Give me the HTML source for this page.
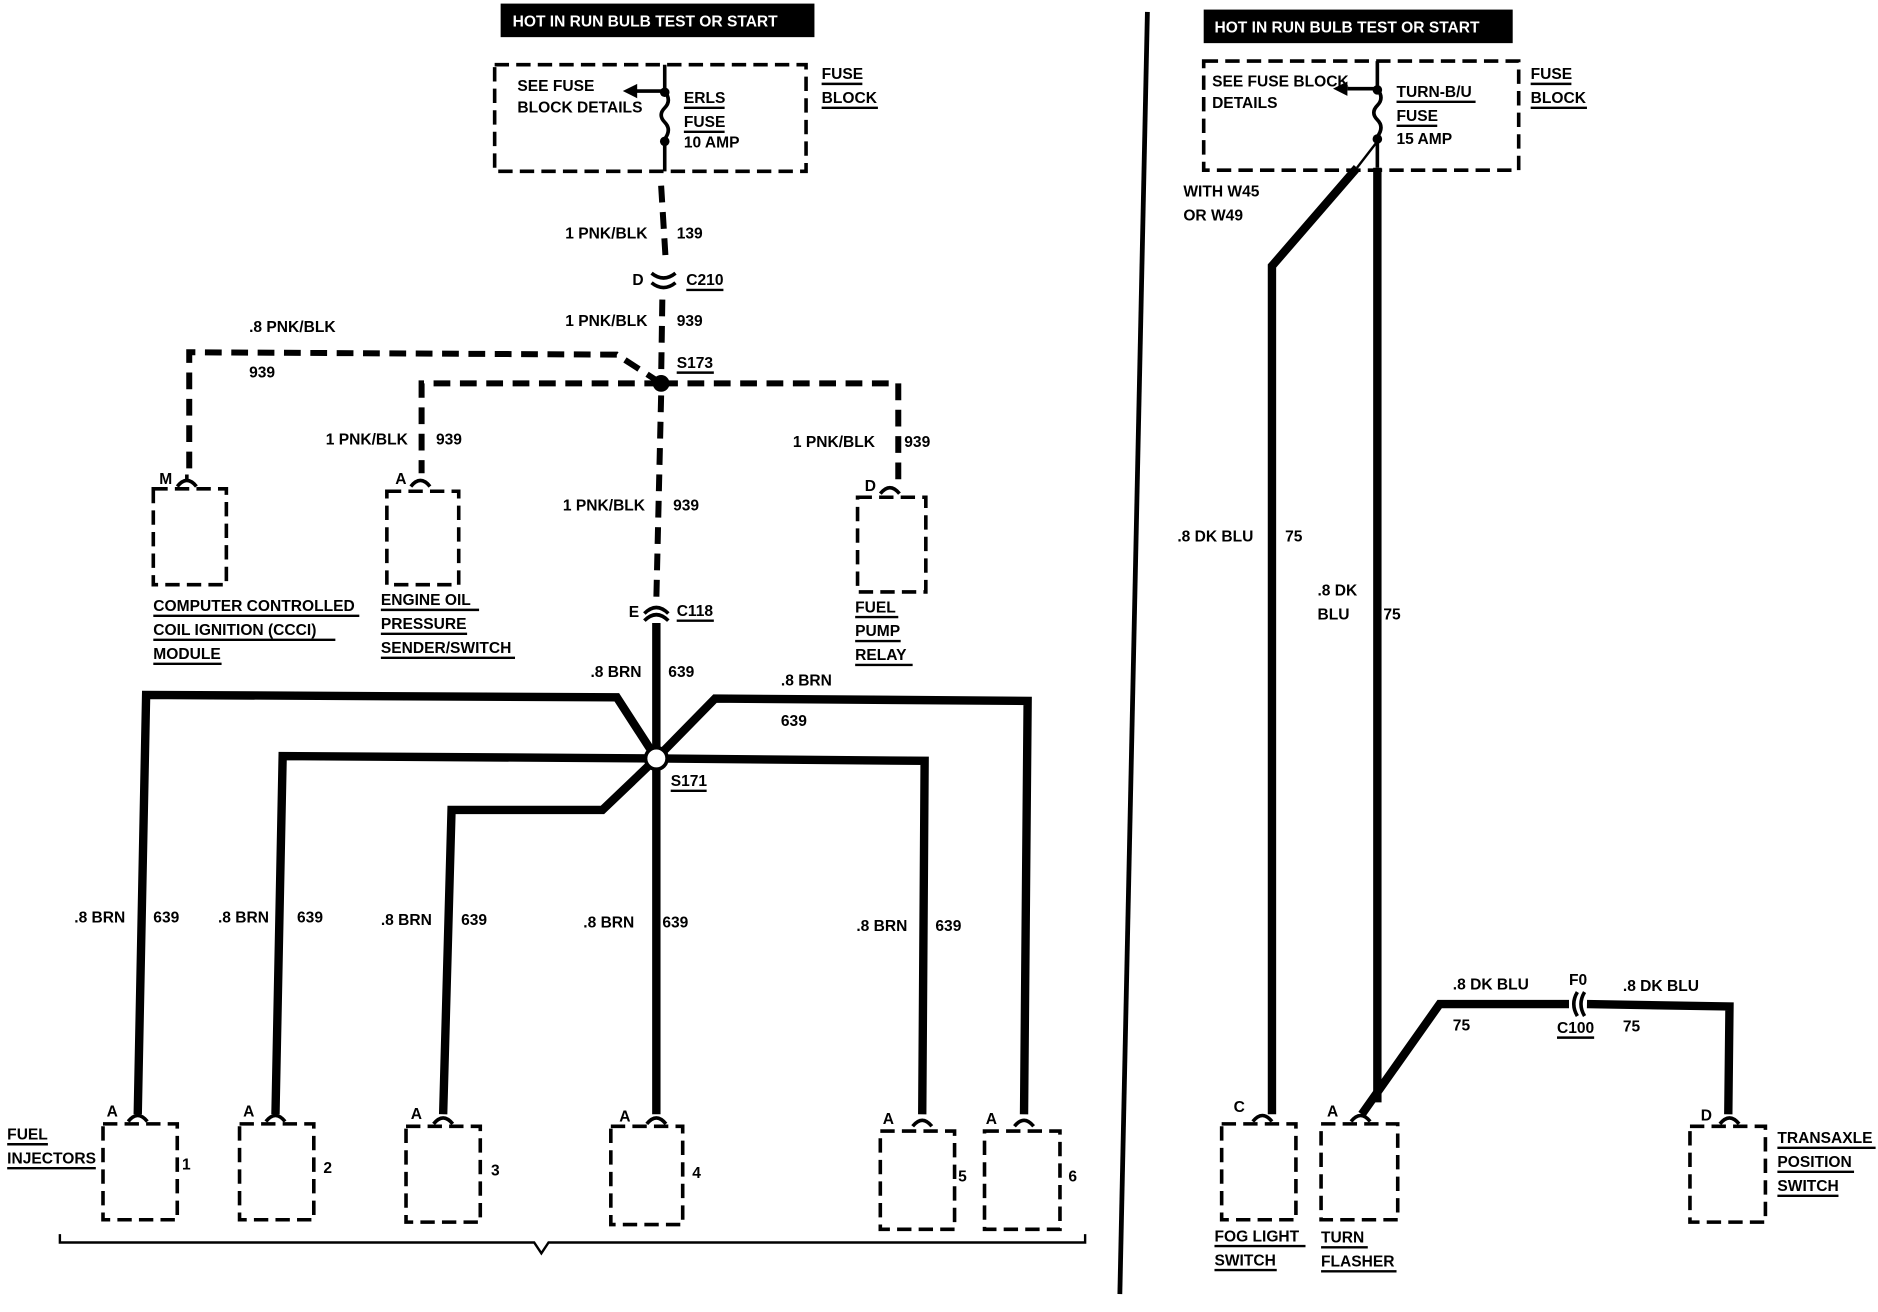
<!DOCTYPE html>
<html><head><style>
html,body{margin:0;padding:0;background:#fff;}
svg{display:block}
text{font-family:"Liberation Sans",sans-serif;font-weight:bold;font-size:13px;fill:#000}
.w{fill:#fff;font-size:13px}
.t{stroke:#000;stroke-width:7;fill:none;stroke-linejoin:miter}
.d{stroke:#000;stroke-width:5;fill:none;stroke-dasharray:14 8}
.b{stroke:#000;stroke-width:3;fill:none;stroke-dasharray:12 6}
.l{stroke:#000;stroke-width:2;fill:none}
.c{stroke:#000;stroke-width:3;fill:none}
</style></head><body>
<svg width="1878" height="1312" viewBox="0 0 1568 1095" preserveAspectRatio="none" xmlns="http://www.w3.org/2000/svg">
<!-- LEFT -->
<rect x="418" y="3" width="262" height="28" fill="#000"/>
<text x="428" y="22" class="w">HOT IN RUN BULB TEST OR START</text>
<rect x="413" y="54" width="260" height="89" class="b"/>
<text x="432" y="76" font-size="11">SEE FUSE</text>
<text x="432" y="94" font-size="11">BLOCK DETAILS</text>
<path d="M555 54 V76 M555 76 H530" class="c"/>
<path d="M520 76 L532 70 L532 82 Z"/>
<path d="M555 76 q6 8 0 14 q-6 6 0 12 q6 6 0 14 V143" class="c"/>
<circle cx="555" cy="77" r="4"/><circle cx="555" cy="118" r="4"/>
<text x="571" y="86">ERLS</text><path d="M571 90 H605" class="l"/>
<text x="571" y="106">FUSE</text><path d="M571 110 H605" class="l"/>
<text x="571" y="123" font-size="10">10 AMP</text>
<text x="686" y="66">FUSE</text><path d="M686 70 H720" class="l"/>
<text x="686" y="86">BLOCK</text><path d="M686 90 H733" class="l"/>
<path d="M552 155 L556 220" class="d"/>
<text x="472" y="199">1 PNK/BLK</text><text x="565" y="199">139</text>
<text x="528" y="238">D</text>
<path d="M544 228 q10 8 20 0 M544 236 q10 8 20 0" class="c"/>
<text x="573" y="238">C210</text><path d="M573 242 H604" class="l"/>
<path d="M553 250 L552 315" class="d"/>
<text x="472" y="272">1 PNK/BLK</text><text x="565" y="272">939</text>
<circle cx="552" cy="320" r="7"/>
<text x="565" y="307">S173</text><path d="M565 311 H596" class="l"/>
<path d="M552 320 L515 296 L158 294 V395" class="d"/>
<text x="208" y="277">.8 PNK/BLK</text><text x="208" y="315">939</text>
<path d="M552 320 H352 V395" class="d"/>
<path d="M552 320 H750 V405" class="d"/>
<text x="272" y="371">1 PNK/BLK</text><text x="364" y="371">939</text>
<text x="662" y="373">1 PNK/BLK</text><text x="755" y="373">939</text>
<path d="M552 330 L548 500" class="d"/>
<text x="470" y="426">1 PNK/BLK</text><text x="562" y="426">939</text>
<!-- connectors top -->
<text x="133" y="404">M</text><path d="M148 406 q8 -10 16 0 M156 400 V396" class="c"/>
<text x="330" y="404">A</text><path d="M343 406 q8 -10 16 0" class="c"/>
<text x="722" y="410">D</text><path d="M735 412 q8 -10 16 0" class="c"/>
<rect x="128" y="408" width="61" height="80" class="b"/>
<rect x="323" y="410" width="60" height="78" class="b"/>
<rect x="716" y="415" width="57" height="79" class="b"/>
<text x="128" y="510">COMPUTER CONTROLLED</text><path d="M128 514 H300" class="l"/>
<text x="128" y="530">COIL IGNITION (CCCI)</text><path d="M128 534 H280" class="l"/>
<text x="128" y="550">MODULE</text><path d="M128 554 H185" class="l"/>
<text x="318" y="505">ENGINE OIL</text><path d="M318 509 H400" class="l"/>
<text x="318" y="525">PRESSURE</text><path d="M318 529 H390" class="l"/>
<text x="318" y="545">SENDER/SWITCH</text><path d="M318 549 H430" class="l"/>
<text x="714" y="511">FUEL</text><path d="M714 515 H750" class="l"/>
<text x="714" y="531">PUMP</text><path d="M714 535 H752" class="l"/>
<text x="714" y="551">RELAY</text><path d="M714 555 H762" class="l"/>
<!-- C118 -->
<text x="525" y="515">E</text>
<path d="M538 512 q10 -10 20 0 M538 518 q10 -10 20 0" class="c"/>
<text x="565" y="514">C118</text><path d="M565 518 H596" class="l"/>
<path d="M548 520 V930" class="t"/>
<text x="493" y="565">.8 BRN</text><text x="558" y="565">639</text>
<path d="M548 633 L515 582 L122 580 L115 930" class="t"/>
<path d="M548 633 L236 631 L230 930" class="t"/>
<path d="M548 633 L503 676 L377 676 L370 930" class="t"/>
<path d="M548 633 L772 635 L770 930" class="t"/>
<path d="M548 633 L597 583 L858 585 L855 930" class="t"/>
<circle cx="548" cy="633" r="9" fill="#fff" stroke="#000" stroke-width="3"/>
<text x="560" y="656">S171</text><path d="M560 660 H590" class="l"/>
<text x="652" y="572">.8 BRN</text><text x="652" y="606">639</text>
<text x="62" y="770">.8 BRN</text><text x="128" y="770">639</text>
<text x="182" y="770">.8 BRN</text><text x="248" y="770">639</text>
<text x="318" y="772">.8 BRN</text><text x="385" y="772">639</text>
<text x="487" y="774">.8 BRN</text><text x="553" y="774">639</text>
<text x="715" y="777">.8 BRN</text><text x="781" y="777">639</text>
<!-- injectors -->
<g>
<text x="89" y="932">A</text><path d="M107 936 q8 -10 16 0" class="c"/><rect x="86" y="938" width="62" height="80" class="b"/><text x="152" y="976">1</text>
<text x="203" y="932">A</text><path d="M222 936 q8 -10 16 0" class="c"/><rect x="200" y="938" width="62" height="80" class="b"/><text x="270" y="979">2</text>
<text x="343" y="934">A</text><path d="M362 938 q8 -10 16 0" class="c"/><rect x="339" y="940" width="62" height="80" class="b"/><text x="410" y="981">3</text>
<text x="517" y="936">A</text><path d="M540 938 q8 -10 16 0" class="c"/><rect x="510" y="940" width="60" height="82" class="b"/><text x="578" y="983">4</text>
<text x="737" y="938">A</text><path d="M762 940 q8 -10 16 0" class="c"/><rect x="735" y="944" width="62" height="82" class="b"/><text x="800" y="986">5</text>
<text x="823" y="938">A</text><path d="M847 940 q8 -10 16 0" class="c"/><rect x="822" y="944" width="63" height="82" class="b"/><text x="892" y="986">6</text>
</g>
<text x="6" y="951">FUEL</text><path d="M6 955 H40" class="l"/>
<text x="6" y="971">INJECTORS</text><path d="M6 975 H80" class="l"/>
<path d="M50 1030 V1037 H446 L452 1046 L458 1037 H906 V1030" class="l" stroke-width="2.5"/>
<!-- divider -->
<path d="M958 10 L935 1080" stroke="#000" stroke-width="4"/>
<!-- RIGHT -->
<rect x="1005" y="8" width="258" height="28" fill="#000"/>
<text x="1014" y="27" class="w">HOT IN RUN BULB TEST OR START</text>
<rect x="1005" y="51" width="263" height="91" class="b"/>
<text x="1012" y="72" font-size="11">SEE FUSE BLOCK</text>
<text x="1012" y="90" font-size="11">DETAILS</text>
<path d="M1150 51 V74 H1125" class="c"/>
<path d="M1113 74 L1125 68 L1125 80 Z"/>
<path d="M1150 74 q6 8 0 14 q-6 6 0 12 q6 6 0 14 V140" class="c"/>
<circle cx="1150" cy="75" r="4"/><circle cx="1150" cy="116" r="4"/>
<text x="1166" y="81">TURN-B/U</text><path d="M1166 85 H1232" class="l"/>
<text x="1166" y="101">FUSE</text><path d="M1166 105 H1200" class="l"/>
<text x="1166" y="120" font-size="10">15 AMP</text>
<text x="1278" y="66">FUSE</text><path d="M1278 70 H1312" class="l"/>
<text x="1278" y="86">BLOCK</text><path d="M1278 90 H1325" class="l"/>
<path d="M1150 118 L1133 140" class="l"/>
<path d="M1133 140 L1062 222 V930" class="t"/>
<path d="M1150 140 V920" class="t"/>
<path d="M1137 930 L1202 838 L1310 838" class="t"/>
<path d="M1325 838 L1444 840 L1443 930" class="t"/>
<path d="M1317 828 q-6 10 0 20 M1323 828 q-6 10 0 20" class="c"/>
<text x="988" y="164">WITH W45</text><text x="988" y="184">OR W49</text>
<text x="983" y="452">.8 DK BLU</text><text x="1073" y="452">75</text>
<text x="1100" y="497">.8 DK</text><text x="1100" y="517">BLU</text><text x="1155" y="517">75</text>
<text x="1213" y="826">.8 DK BLU</text><text x="1213" y="860">75</text>
<text x="1310" y="822">F0</text>
<text x="1300" y="862">C100</text><path d="M1300 866 H1331" class="l"/>
<text x="1355" y="827">.8 DK BLU</text><text x="1355" y="861">75</text>
<text x="1030" y="928">C</text><path d="M1046 936 q8 -10 16 0" class="c"/>
<text x="1108" y="932">A</text><path d="M1128 936 q8 -10 16 0" class="c"/>
<text x="1420" y="935">D</text><path d="M1436 938 q8 -10 16 0" class="c"/>
<rect x="1020" y="938" width="62" height="80" class="b"/>
<rect x="1103" y="938" width="64" height="80" class="b"/>
<rect x="1411" y="940" width="63" height="80" class="b"/>
<text x="1014" y="1036">FOG LIGHT</text><path d="M1014 1040 H1090" class="l"/>
<text x="1014" y="1056">SWITCH</text><path d="M1014 1060 H1066" class="l"/>
<text x="1103" y="1037">TURN</text><path d="M1103 1041 H1142" class="l"/>
<text x="1103" y="1057">FLASHER</text><path d="M1103 1061 H1166" class="l"/>
<text x="1484" y="954">TRANSAXLE</text><path d="M1484 958 H1566" class="l"/>
<text x="1484" y="974">POSITION</text><path d="M1484 978 H1548" class="l"/>
<text x="1484" y="994">SWITCH</text><path d="M1484 998 H1535" class="l"/>
</svg>
</body></html>
